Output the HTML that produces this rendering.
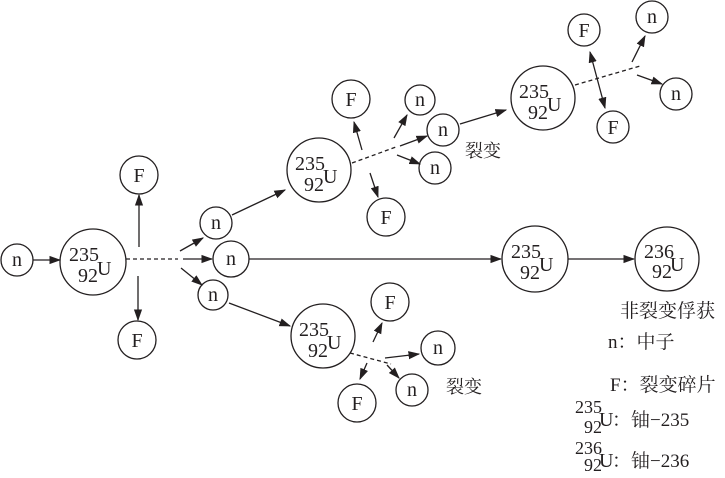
<!DOCTYPE html>
<html><head><meta charset="utf-8"><style>
html,body{margin:0;padding:0;background:#fff;}
svg{display:block;}
svg text{font-family:"Liberation Serif","Times New Roman","Noto Serif CJK SC",serif;fill:#231f20;}
.c{fill:#fff;stroke:#231f20;stroke-width:1.3;}
.l{stroke:#231f20;stroke-width:1.3;fill:none;}
.d{stroke:#231f20;stroke-width:1.3;stroke-dasharray:4,3;fill:none;}
.t{font-size:20px;text-anchor:middle;}
.u{font-size:20px;}
.cj{font-size:18px;}
</style></head><body>
<svg width="725" height="478" viewBox="0 0 725 478" xmlns="http://www.w3.org/2000/svg" font-family="Liberation Serif, Noto Serif CJK SC, serif">
<defs><marker id="a" viewBox="0 0 10 10" refX="9" refY="5" markerWidth="9" markerHeight="9" orient="auto-start-reverse"><path d="M0,1.5 L10,5 L0,8.5 z" fill="#231f20"/></marker></defs>

<!-- main -->
<circle class="c" cx="17" cy="260" r="16"/><text class="t" x="17" y="266">n</text>
<line class="l" x1="33" y1="260" x2="60" y2="260" marker-end="url(#a)"/>
<circle class="c" cx="93" cy="262" r="33"/>
<text class="u" x="69" y="261">235</text><text class="u" x="78" y="282">92</text><text class="u" x="97" y="275">U</text>
<circle class="c" cx="139" cy="175" r="19"/><text class="t" x="139" y="182">F</text>
<line class="l" x1="139" y1="247" x2="139" y2="195" marker-end="url(#a)"/>
<circle class="c" cx="137" cy="340" r="19"/><text class="t" x="137" y="347">F</text>
<line class="l" x1="138" y1="276" x2="138" y2="320" marker-end="url(#a)"/>
<line class="d" x1="126" y1="259" x2="178" y2="259"/>
<circle class="c" cx="216" cy="223" r="16"/><text class="t" x="216" y="229">n</text>
<line class="l" x1="180" y1="251" x2="203" y2="238" marker-end="url(#a)"/>
<circle class="c" cx="231" cy="259" r="18"/><text class="t" x="231" y="265">n</text>
<line class="l" x1="183" y1="259" x2="212" y2="259" marker-end="url(#a)"/>
<circle class="c" cx="213" cy="295" r="15"/><text class="t" x="213" y="301">n</text>
<line class="l" x1="181" y1="268" x2="202" y2="285" marker-end="url(#a)"/>
<line class="l" x1="232" y1="215" x2="285" y2="190" marker-end="url(#a)"/>
<line class="l" x1="229" y1="303" x2="290" y2="326" marker-end="url(#a)"/>

<!-- upper fission -->
<circle class="c" cx="319" cy="170" r="32"/>
<text class="u" x="295" y="170">235</text><text class="u" x="304" y="191">92</text><text class="u" x="323" y="183">U</text>
<circle class="c" cx="351" cy="99" r="19"/><text class="t" x="351" y="106">F</text>
<line class="l" x1="362" y1="150" x2="354" y2="122" marker-end="url(#a)"/>
<circle class="c" cx="386" cy="217" r="19"/><text class="t" x="386" y="224">F</text>
<line class="l" x1="370" y1="173" x2="378" y2="197" marker-end="url(#a)"/>
<line class="d" x1="352" y1="163" x2="396" y2="147"/>
<circle class="c" cx="420" cy="100" r="15"/><text class="t" x="420" y="106">n</text>
<line class="l" x1="394" y1="138" x2="407" y2="115" marker-end="url(#a)"/>
<circle class="c" cx="443" cy="130" r="16"/><text class="t" x="443" y="136">n</text>
<line class="l" x1="400" y1="146" x2="427" y2="136" marker-end="url(#a)"/>
<circle class="c" cx="435" cy="168" r="16"/><text class="t" x="435" y="174">n</text>
<line class="l" x1="397" y1="155" x2="420" y2="164" marker-end="url(#a)"/>
<line class="l" x1="460" y1="124" x2="506" y2="110" marker-end="url(#a)"/>
<text class="cj" x="465" y="157">裂变</text>

<circle class="c" cx="543" cy="98" r="32"/>
<text class="u" x="519" y="98">235</text><text class="u" x="528" y="119">92</text><text class="u" x="547" y="111">U</text>
<line class="d" x1="575" y1="85" x2="640" y2="66"/>
<circle class="c" cx="584" cy="30" r="16"/><text class="t" x="584" y="37">F</text>
<circle class="c" cx="613" cy="127" r="16"/><text class="t" x="613" y="134">F</text>
<line class="l" x1="590" y1="52" x2="605" y2="108" marker-start="url(#a)" marker-end="url(#a)"/>
<circle class="c" cx="652" cy="17" r="16"/><text class="t" x="652" y="23">n</text>
<line class="l" x1="632" y1="62" x2="645" y2="36" marker-end="url(#a)"/>
<circle class="c" cx="676" cy="94" r="16"/><text class="t" x="676" y="100">n</text>
<line class="l" x1="637" y1="75" x2="662" y2="84" marker-end="url(#a)"/>

<!-- middle capture -->
<line class="l" x1="249" y1="259" x2="501" y2="259" marker-end="url(#a)"/>
<circle class="c" cx="535" cy="259" r="33"/>
<text class="u" x="511" y="258">235</text><text class="u" x="520" y="279">92</text><text class="u" x="539" y="271">U</text>
<line class="l" x1="568" y1="259" x2="634" y2="259" marker-end="url(#a)"/>
<circle class="c" cx="667" cy="259" r="32"/>
<text class="u" x="644" y="258">236</text><text class="u" x="652" y="278">92</text><text class="u" x="670" y="271">U</text>
<text class="cj" x="620" y="317" style="font-size:19px">非裂变俘获</text>

<!-- lower fission -->
<circle class="c" cx="323" cy="336" r="32"/>
<text class="u" x="299" y="336">235</text><text class="u" x="308" y="357">92</text><text class="u" x="327" y="349">U</text>
<circle class="c" cx="390" cy="302" r="19"/><text class="t" x="390" y="309">F</text>
<line class="l" x1="373" y1="342" x2="382" y2="323" marker-end="url(#a)"/>
<circle class="c" cx="438" cy="348" r="17"/><text class="t" x="438" y="354">n</text>
<line class="l" x1="385" y1="358" x2="419" y2="354" marker-end="url(#a)"/>
<circle class="c" cx="412" cy="390" r="16"/><text class="t" x="412" y="396">n</text>
<line class="l" x1="387" y1="365" x2="399" y2="378" marker-end="url(#a)"/>
<circle class="c" cx="357" cy="403" r="19"/><text class="t" x="357" y="410">F</text>
<line class="l" x1="367" y1="363" x2="360" y2="379" marker-end="url(#a)"/>
<line class="d" x1="350" y1="353" x2="391" y2="364"/>
<text class="cj" x="446" y="393">裂变</text>

<!-- legend -->
<text class="cj" x="608" y="348" style="font-size:19px">n：中子</text>
<text class="cj" x="610" y="391" style="font-size:19px">F：裂变碎片</text>
<text class="u" x="575" y="413" style="font-size:18px">235</text><text class="u" x="584" y="433" style="font-size:18px">92</text><text class="u" x="599" y="426">U</text>
<text class="cj" x="612" y="426" style="font-size:19px">：铀−235</text>
<text class="u" x="575" y="454" style="font-size:18px">236</text><text class="u" x="584" y="471" style="font-size:18px">92</text><text class="u" x="599" y="467">U</text>
<text class="cj" x="612" y="467" style="font-size:19px">：铀−236</text>
</svg>
</body></html>
